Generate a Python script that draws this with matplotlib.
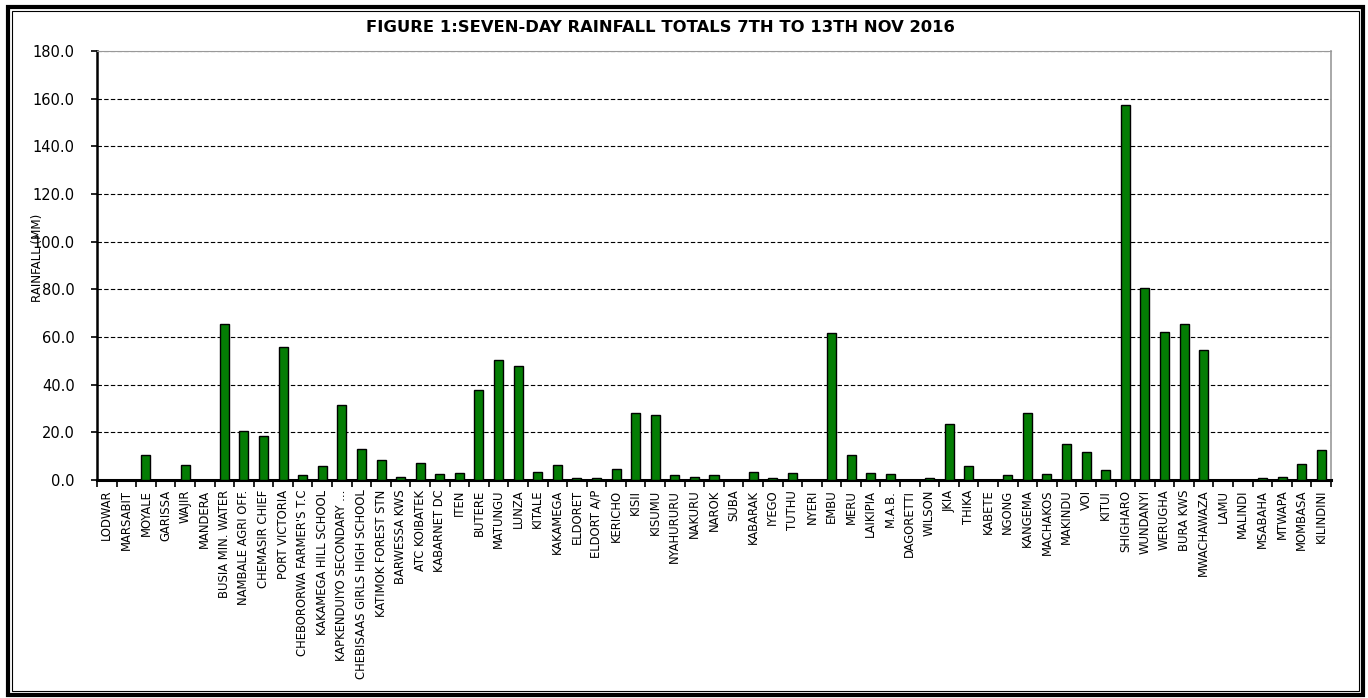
import matplotlib
matplotlib.use("Agg")
import matplotlib.pyplot as plt
from matplotlib.patches import Rectangle
import numpy as np

stations = ["LODWAR", "MARSABIT", "MOYALE", "GARISSA", "WAJIR", "MANDERA",
            "BUSIA MIN. WATER", "NAMBALE AGRI OFF.", "CHEMASIR CHIEF", "PORT VICTORIA",
            "CHEBORORWA FARMER'S T.C", "KAKAMEGA HILL SCHOOL", "KAPKENDUIYO SECONDARY ...",
            "CHEBISAAS GIRLS HIGH SCHOOL", "KATIMOK FOREST STN", "BARWESSA KWS",
            "ATC KOIBATEK", "KABARNET DC", "ITEN", "BUTERE", "MATUNGU", "LUNZA",
            "KITALE", "KAKAMEGA", "ELDORET", "ELDORT A/P", "KERICHO", "KISII",
            "KISUMU", "NYAHURURU", "NAKURU", "NAROK", "SUBA", "KABARAK", "IYEGO",
            "TUTHU", "NYERI", "EMBU", "MERU", "LAIKIPIA", "M.A.B.", "DAGORETTI",
            "WILSON", "JKIA", "THIKA", "KABETE", "NGONG", "KANGEMA", "MACHAKOS",
            "MAKINDU", "VOI", "KITUI", "SHIGHARO", "WUNDANYI", "WERUGHA",
            "BURA KWS", "MWACHAWAZA", "LAMU", "MALINDI", "MSABAHA", "MTWAPA",
            "MOMBASA", "KILINDINI"]

rainfall = [0.0, 0.0, 10.4, 0.0, 6.3, 0.0,
            65.3, 20.5, 18.5, 55.6,
            2.1, 5.9, 31.6,
            13.0, 8.4, 1.4,
            7.3, 2.5, 3.1, 37.6, 50.4, 47.7,
            3.5, 6.3, 0.8, 0.8, 4.5, 28.1,
            27.1, 2.0, 1.3, 2.0, 0.0, 3.5, 0.8,
            2.9, 0.0, 61.5, 10.4, 2.9, 2.5, 0.0,
            0.8, 23.7, 5.8, 0.0, 2.0, 28.1, 2.5,
            15.2, 11.9, 4.1, 157.2, 80.7, 62.0,
            65.4, 54.5, 0.0, 0.0, 0.8, 1.4,
            6.7, 12.5]

yticks = [0, 20, 40, 60, 80, 100, 120, 140, 160, 180]

plt.rcParams["font.family"] = ["DejaVu Sans"]

fig = plt.figure(figsize=(13.68, 6.98), dpi=100)
ax = fig.add_axes([97 / 1368, 1 - 480 / 698, (1331 - 97) / 1368, (480 - 51) / 698])

x = np.arange(len(stations))
ax.bar(x, rainfall, width=0.46, color="#047d04", edgecolor="black", linewidth=1.0, zorder=3)

ax.set_xlim(-0.5, len(stations) - 0.5)
ax.set_ylim(0, 180)
ax.set_yticks(yticks)
ax.set_yticklabels([f"{v:.1f}" for v in yticks], fontsize=10.5)
ax.grid(axis="y", color="black", linestyle=(0, (4, 2)), linewidth=0.8, zorder=1)

ax.set_xticks(x)
ax.set_xticklabels(stations, rotation=90, fontsize=9.3, fontstretch="condensed")
ax.set_xticks(np.arange(-0.5, len(stations)), minor=True)
ax.tick_params(axis="x", which="major", length=0, pad=7)
ax.tick_params(axis="x", which="minor", length=5, width=1.2, direction="out")
ax.tick_params(axis="y", length=4, width=1.2, direction="out", pad=12)

ax.spines["left"].set_linewidth(1.8)
ax.spines["bottom"].set_linewidth(2.2)
ax.spines["top"].set_color("#999999")
ax.spines["top"].set_linewidth(0.8)
ax.spines["right"].set_color("#999999")
ax.spines["right"].set_linewidth(1.2)

fig.text(37 / 1368, 1 - 258 / 698, "RAINFALL (MM)", rotation=90, fontsize=9.5,
         ha="center", va="center", fontstretch="condensed")
fig.text(660 / 1368, 1 - 27 / 698, "FIGURE 1:SEVEN-DAY RAINFALL TOTALS 7TH TO 13TH NOV 2016",
         ha="center", va="center", fontsize=11.8, fontweight="bold")

# outer double frame
fig.patches.append(Rectangle((8 / 1368, 3 / 698), 1355 / 1368, 688 / 698, transform=fig.transFigure,
                             fill=False, edgecolor="black", linewidth=3))
fig.patches.append(Rectangle((12 / 1368, 7 / 698), 1347 / 1368, 680 / 698, transform=fig.transFigure,
                             fill=False, edgecolor="black", linewidth=0.8))

fig.savefig("out.png", dpi=100)
